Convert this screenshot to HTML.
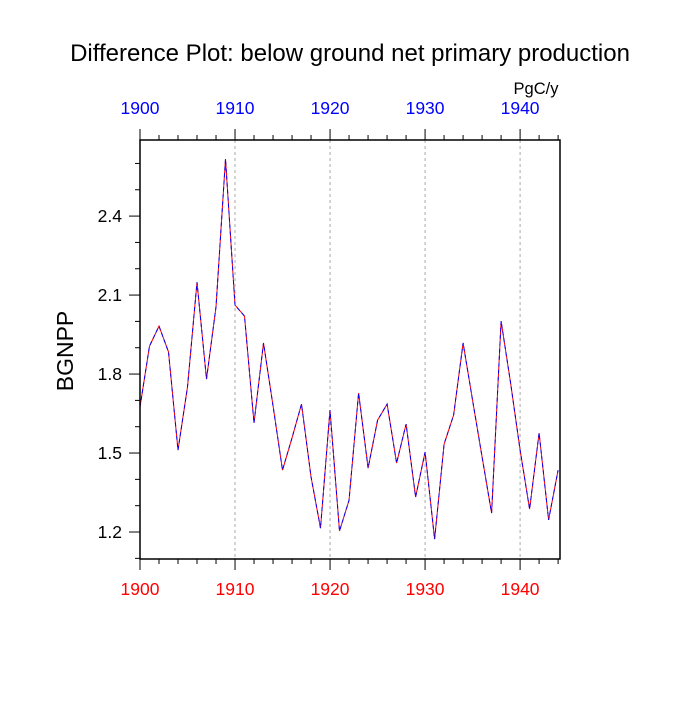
<!DOCTYPE html>
<html><head><meta charset="utf-8"><style>
body{margin:0;background:#fff}
text{font-family:"Liberation Sans",sans-serif}
</style></head><body>
<svg id="c" width="700" height="700" xmlns="http://www.w3.org/2000/svg">
<text x="350" y="61" font-size="24" text-anchor="middle">Difference Plot: below ground net primary production</text>
<text x="536" y="94" font-size="16.5" text-anchor="middle">PgC/y</text>
<text x="73" y="351" font-size="23" text-anchor="middle" transform="rotate(-90 73 351)">BGNPP</text>
<g id="grid"></g><g id="axes"></g><g id="series"></g>
<rect x="140" y="140" width="420" height="419" fill="none" stroke="#000" stroke-width="1.5"/>
</svg>
<script>
const years=[1900,1901,1902,1903,1904,1905,1906,1907,1908,1909,1910,1911,1912,1913,1914,1915,1916,1917,1918,1919,1920,1921,1922,1923,1924,1925,1926,1927,1928,1929,1930,1931,1932,1933,1934,1935,1936,1937,1938,1939,1940,1941,1942,1943,1944];
const values=[1.675,1.906,1.982,1.884,1.511,1.751,2.149,1.781,2.055,2.617,2.062,2.02,1.614,1.918,1.68,1.435,1.557,1.686,1.41,1.215,1.663,1.204,1.32,1.728,1.443,1.625,1.686,1.462,1.61,1.333,1.504,1.173,1.534,1.644,1.918,1.70,1.485,1.272,2.001,1.766,1.511,1.287,1.576,1.246,1.435];
const xTicks=[1900,1910,1920,1930,1940];
const yTicks=[1.2,1.5,1.8,2.1,2.4];
const X0=140,X1=560,Y0=559,Y1=140,xmin=1900,xmax=1944.2,ymin=1.0975,ymax=2.689;
const sx=v=>X0+(v-xmin)/(xmax-xmin)*(X1-X0);
const sy=v=>Y0-(v-ymin)/(ymax-ymin)*(Y0-Y1);
const NS="http://www.w3.org/2000/svg";
function mk(p,t,a){const e=document.createElementNS(NS,t);for(const k in a)e.setAttribute(k,a[k]);p.appendChild(e);return e;}
const grid=document.getElementById('grid'),axes=document.getElementById('axes'),ser=document.getElementById('series');
xTicks.forEach(t=>{const x=sx(t);
 if(t>xmin){const g=mk(grid,'line',{x1:x,x2:x,y1:Y1,y2:Y0,stroke:'#aaa','stroke-dasharray':'3,3','stroke-width':1});
 
 }
 const b=mk(axes,'text',{x:x,y:595,'font-size':17.5,'text-anchor':'middle',fill:'#f00'});b.textContent=t;
 
 
 const tp=mk(axes,'text',{x:x,y:114,'font-size':17.5,'text-anchor':'middle',fill:'#00f'});tp.textContent=t;
 
 
});
for(let y=1900;y<=1944;y+=2){const x=sx(y),L=(y%10==0)?11:5;
 mk(axes,'line',{x1:x,x2:x,y1:Y0,y2:Y0+L,stroke:'#000','stroke-width':1});
 mk(axes,'line',{x1:x,x2:x,y1:Y1,y2:Y1-L,stroke:'#000','stroke-width':1});}
for(let v=1.1;v<=2.65;v+=0.1){const y=sy(v),maj=yTicks.some(t=>Math.abs(t-v)<1e-6),L=maj?11:5;
 mk(axes,'line',{x1:X0,x2:X0-L,y1:y,y2:y,stroke:'#000','stroke-width':1});}
yTicks.forEach(t=>{const e=mk(axes,'text',{x:122,y:sy(t)+6,'font-size':17.5,'text-anchor':'end'});e.textContent=t.toFixed(1);
 
 });
const pts=years.map((y,i)=>sx(y).toFixed(1)+','+sy(values[i]).toFixed(1)).join(' ');
const r=mk(ser,'polyline',{points:pts,fill:'none',stroke:'#f00','stroke-width':1});


const bl=mk(ser,'polyline',{points:pts,fill:'none',stroke:'#00f','stroke-width':1,'stroke-dasharray':'4,3'});


</script>
</body></html>
